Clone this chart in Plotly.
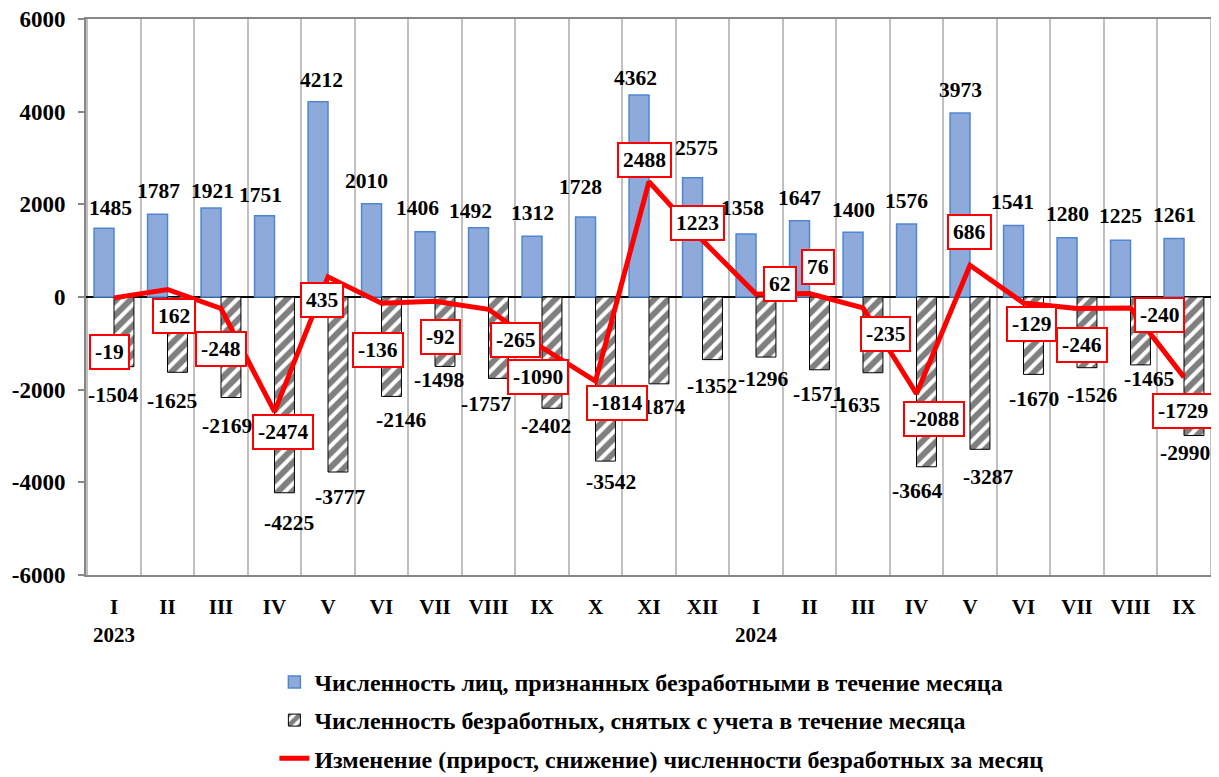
import plotly.graph_objects as go

# ---- data ----
months = ["I", "II", "III", "IV", "V", "VI", "VII", "VIII", "IX", "X", "XI", "XII",
          "I", "II", "III", "IV", "V", "VI", "VII", "VIII", "IX"]
years = ["2023"] * 12 + ["2024"] * 9
registered = [1485, 1787, 1921, 1751, 4212, 2010, 1406, 1492, 1312, 1728, 4362, 2575,
              1358, 1647, 1400, 1576, 3973, 1541, 1280, 1225, 1261]
removed = [-1504, -1625, -2169, -4225, -3777, -2146, -1498, -1757, -2402, -3542, -1874, -1352,
           -1296, -1571, -1635, -3664, -3287, -1670, -1526, -1465, -2990]
change = [-19, 162, -248, -2474, 435, -136, -92, -265, -1090, -1814, 2488, 1223,
          62, 76, -235, -2088, 686, -129, -246, -240, -1729]
y_ticks = [6000, 4000, 2000, 0, -2000, -4000, -6000]
series_names = [
    "Численность лиц, признанных безработными в течение месяца",
    "Численность безработных, снятых с учета в течение месяца",
    "Изменение (прирост, снижение) численности безработных за месяц",
]

# ---- label placement offsets (pixels, relative to category centre / value) ----
chg_dx = [-5, 6, 0, 8, -6, -4, 5, 27, -4, 21, -5, -5, 24, 8, 22, 17, -1, 8, 5, 29, -1]
chg_dy = [-54, -27, -41, -20, -23, -47, -36, -31, -29, -22, 22, 17, 10, 26, -26, -25, 33, -21, -37, -7, -34]
reg_dx = [-4, -9, -9, -14, -7, -15, -18, -18, -10, -15, -14, -6, -14, -10, -10, -10, -10, -11, -10, -10, -10]
reg_dy = [20, 23, 17, 21, 22, 23, 24, 17, 23, 30, 17, 30, 26, 23, 22, 23, 23, 24, 24, 24, 24]
rem_dx = [-1, 4, 6, 14, 12, 19, 4, -3, 4, 15, 11, 9, 7, 8, -8, 0, 18, 10, 15, 18, 1]
rem_dy = [-28, -29, -28, -30, -25, -24, -14, -26, -18, -21, -23, -26, -22, -24, -32, -24, -28, -25, -27, -14, -17]

x_ids = [f"{m} {y}" for m, y in zip(months, years)]
tick_text = []
seen = set()
for m, y in zip(months, years):
    if y not in seen:
        tick_text.append(f"{m}<br>{y}")
        seen.add(y)
    else:
        tick_text.append(m)

FONT = "Liberation Serif"
LBL = dict(family=FONT, size=21.5, color="black", weight="bold")

fig = go.Figure()
fig.add_trace(go.Bar(
    x=x_ids, y=registered, name=series_names[0], legendgroup="a",
    marker=dict(color="#8EAADB", line=dict(color="#4F86D4", width=1.5)),
))
fig.add_trace(go.Bar(
    x=x_ids, y=removed, name=series_names[1], legendgroup="b",
    marker=dict(color="white", line=dict(color="black", width=1),
                pattern=dict(shape="/", fgcolor="black", bgcolor="white", size=10, solidity=0.6)),
))
fig.add_trace(go.Scatter(
    x=x_ids, y=change, name=series_names[2], legendgroup="c",
    mode="lines", line=dict(color="#FF0000", width=5), cliponaxis=False,
))

# bar value labels
for xi, v, dx, dy in zip(x_ids, registered, reg_dx, reg_dy):
    fig.add_annotation(x=xi, y=v, xref="x", yref="y", text=str(v), showarrow=False,
                       xshift=dx, yshift=dy, font=LBL)
for xi, v, dx, dy in zip(x_ids, removed, rem_dx, rem_dy):
    fig.add_annotation(x=xi, y=v, xref="x", yref="y", text=str(v), showarrow=False,
                       xshift=dx, yshift=dy, font=LBL)
# boxed change labels
for xi, v, dx, dy in zip(x_ids, change, chg_dx, chg_dy):
    fig.add_annotation(
        x=xi, y=v, xref="x", yref="y", text=str(v), showarrow=False,
        xshift=dx, yshift=dy, font=LBL,
        bgcolor="white", bordercolor="#FF0000", borderwidth=2, borderpad=4,
    )

# the page body has an 8px margin: compensate so the chart sits where the reference has it
fig.update_layout(
    width=1211, height=769,
    margin=dict(l=78, r=5, t=11, b=202, autoexpand=False),
    paper_bgcolor="white", plot_bgcolor="white",
    font=dict(family=FONT, size=20, color="black", weight="bold"),
    barmode="group", bargap=0.255, bargroupgap=0,
    showlegend=True,
    legend=dict(
        orientation="v", x=0.167, y=-0.1525, xanchor="left", yanchor="top",
        font=dict(family=FONT, size=24, color="black", weight="bold"),
        tracegroupgap=4, bgcolor="rgba(0,0,0,0)",
    ),
)
fig.update_xaxes(
    type="category", tickvals=x_ids, ticktext=tick_text, tickson="boundaries",
    showgrid=True, gridcolor="#C0C0C0", gridwidth=1.5, ticks="",
    showline=True, linecolor="#878787", linewidth=2, mirror=True,
    tickfont=dict(family=FONT, size=21, color="black", weight="bold"),
    ticklabelstandoff=12, automargin=False,
)
fig.update_yaxes(
    range=[-6000, 6000], tickvals=y_ticks, ticktext=[str(v) for v in y_ticks],
    showgrid=False, zeroline=True, zerolinecolor="black", zerolinewidth=2,
    ticks="outside", ticklen=6, tickcolor="#878787", tickwidth=2,
    showline=True, linecolor="#878787", linewidth=2, mirror=True,
    tickfont=dict(family=FONT, size=23, color="black", weight="bold"),
    ticklabelstandoff=8, ticklabeloverflow="allow", automargin=False,
)

fig.write_html("out.html")
